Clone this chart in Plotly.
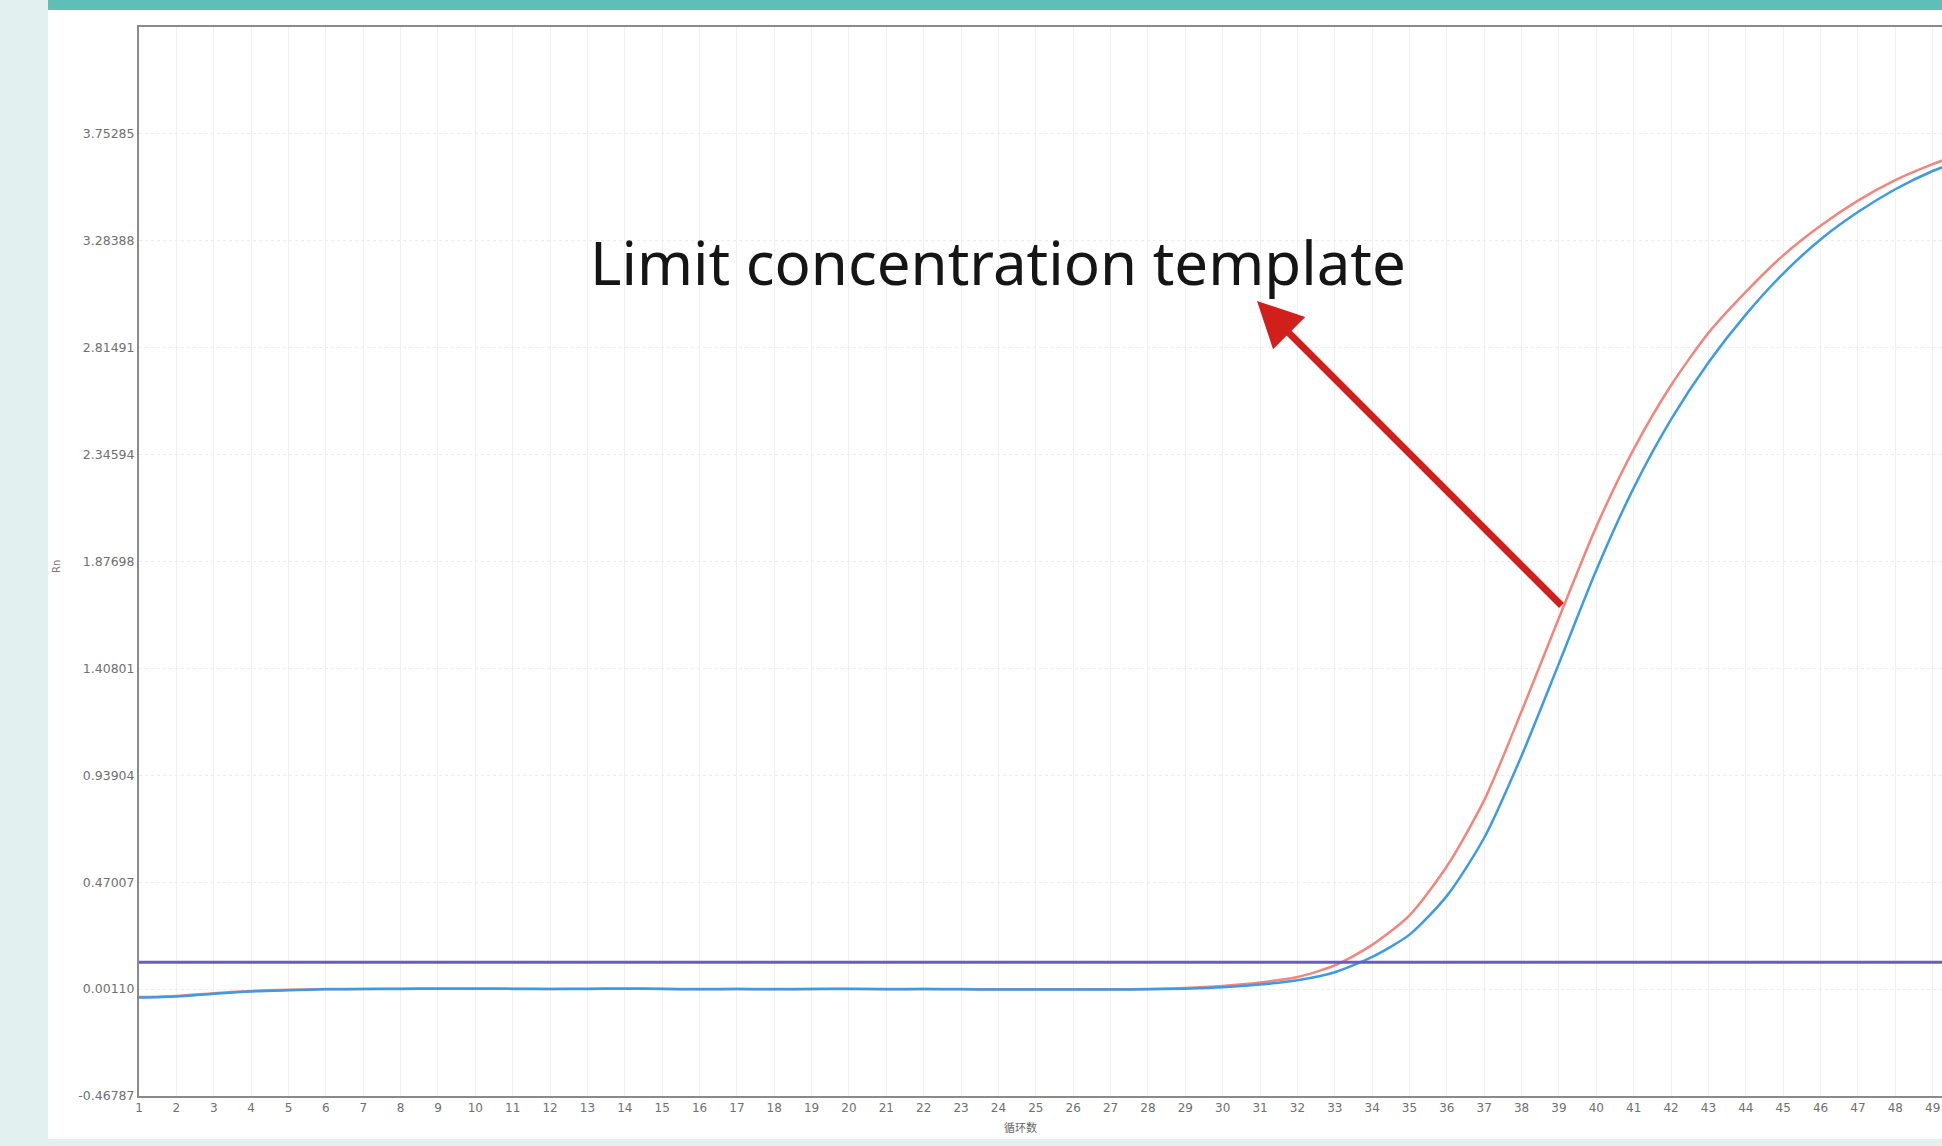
import plotly.graph_objects as go

# ---------------- data ----------------
cycles = list(range(1, 51))

red_values = [
    -0.034, -0.029, -0.017, -0.007, -0.002, 0.001, 0.002, 0.003, 0.004, 0.004,
    0.003, 0.002, 0.003, 0.004, 0.003, 0.001, 0.002, 0.001, 0.002, 0.003,
    0.001, 0.002, 0.001, 0.000, 0.000, 0.000, 0.000, 0.002, 0.006, 0.015,
    0.030, 0.054, 0.105, 0.195, 0.325, 0.540, 0.830, 1.220, 1.630, 2.030,
    2.370, 2.650, 2.880, 3.060, 3.220, 3.350, 3.460, 3.550, 3.620, 3.680,
]

blue_values = [
    -0.036, -0.031, -0.019, -0.009, -0.004, 0.000, 0.001, 0.002, 0.003, 0.003,
    0.002, 0.001, 0.002, 0.003, 0.002, 0.000, 0.001, 0.000, 0.001, 0.002,
    0.000, 0.001, 0.000, -0.001, -0.001, -0.001, -0.001, 0.000, 0.003, 0.009,
    0.021, 0.040, 0.075, 0.142, 0.240, 0.410, 0.665, 1.025, 1.430, 1.840,
    2.200, 2.500, 2.750, 2.960, 3.140, 3.290, 3.410, 3.510, 3.590, 3.650,
]

threshold = 0.119

y_tick_values = [-0.46787, 0.00110, 0.47007, 0.93904, 1.40801,
                 1.87698, 2.34594, 2.81491, 3.28388, 3.75285]
y_tick_labels = ["-0.46787", "0.00110", "0.47007", "0.93904", "1.40801",
                 "1.87698", "2.34594", "2.81491", "3.28388", "3.75285"]
x_tick_values = list(range(1, 50))
x_tick_labels = [str(v) for v in x_tick_values]

annotation_text = "Limit concentration template"
x_title = "循环数"
y_title = "Rn"

# ---------------- layout geometry ----------------
W, H = 1942, 1146
ML, MR, MT, MB = 139, 0, 27, 50
PW, PH = W - ML - MR, H - MT - MB


def px_x(px):
    return (px - ML) / PW


def px_y(py):
    return (H - MB - py) / PH


fig = go.Figure()

fig.add_trace(go.Scatter(
    x=cycles, y=red_values, mode="lines", name="red",
    line=dict(color="#f2857c", width=2.5, shape="spline", smoothing=0.7),
    showlegend=False, cliponaxis=True,
))
fig.add_trace(go.Scatter(
    x=cycles, y=blue_values, mode="lines", name="blue",
    line=dict(color="#3d9be3", width=2.5, shape="spline", smoothing=0.7),
    showlegend=False, cliponaxis=True,
))

shapes = [
    # white card
    dict(type="rect", xref="paper", yref="paper", layer="below",
         x0=px_x(48), x1=px_x(W + 5), y0=px_y(1139), y1=px_y(10),
         fillcolor="white", line=dict(width=0)),
    # top teal band
    dict(type="rect", xref="paper", yref="paper", layer="below",
         x0=px_x(48), x1=px_x(W + 5), y0=px_y(10), y1=px_y(-5),
         fillcolor="#5fbfb6", line=dict(width=0)),
    # threshold line
    dict(type="line", xref="x domain", yref="y", x0=0, x1=1,
         y0=threshold, y1=threshold, layer="above",
         line=dict(color="#6a5cc8", width=3)),
]

annotations = [
    dict(text=annotation_text, xref="paper", yref="paper",
         x=px_x(998), y=px_y(262), xanchor="center", yanchor="middle",
         showarrow=False,
         font=dict(family="Noto Sans", size=60, color="#151515")),
    dict(text="", xref="paper", yref="paper",
         x=px_x(1257), y=px_y(301), axref="pixel", ayref="pixel",
         ax=306, ay=306, showarrow=True, arrowhead=2, arrowsize=1.3,
         arrowwidth=7, arrowcolor="#d11f1b", standoff=0, startstandoff=0),
    dict(text=x_title, xref="paper", yref="paper",
         x=px_x(1020), y=px_y(1127), xanchor="center", yanchor="middle",
         showarrow=False, font=dict(family="Noto Sans CJK SC", size=11, color="#666")),
    dict(text=y_title, xref="paper", yref="paper",
         x=px_x(56), y=px_y(567), xanchor="center", yanchor="middle",
         textangle=-90, showarrow=False,
         font=dict(family="DejaVu Sans", size=10, color="#777")),
]

fig.update_layout(
    width=W, height=H,
    margin=dict(l=ML, r=MR, t=MT, b=MB, pad=0),
    paper_bgcolor="#e2f1f0",
    plot_bgcolor="white",
    shapes=shapes,
    annotations=annotations,
    font=dict(family="DejaVu Sans", color="#666"),
    xaxis=dict(
        range=[1, 49.25], tickmode="array", tickvals=x_tick_values,
        ticktext=x_tick_labels, tickfont=dict(size=12, color="#707070"),
        showgrid=True, gridcolor="#f0f0f0", gridwidth=1,
        zeroline=False, showline=True, linecolor="#8a8a8a", linewidth=2,
        mirror=True, ticks="", fixedrange=True,
    ),
    yaxis=dict(
        range=[-0.46787, 4.22182], tickmode="array", tickvals=y_tick_values,
        ticktext=y_tick_labels, tickfont=dict(size=12.5, color="#707070"),
        showgrid=True, gridcolor="#ececec", gridwidth=1, griddash="dot",
        zeroline=False, showline=True, linecolor="#8a8a8a", linewidth=2,
        ticks="", fixedrange=True,
    ),
)

fig.write_html(
    "out.html",
    config={"displayModeBar": False},
    post_script="document.body.style.margin='0';document.body.style.overflow='hidden';",
)
